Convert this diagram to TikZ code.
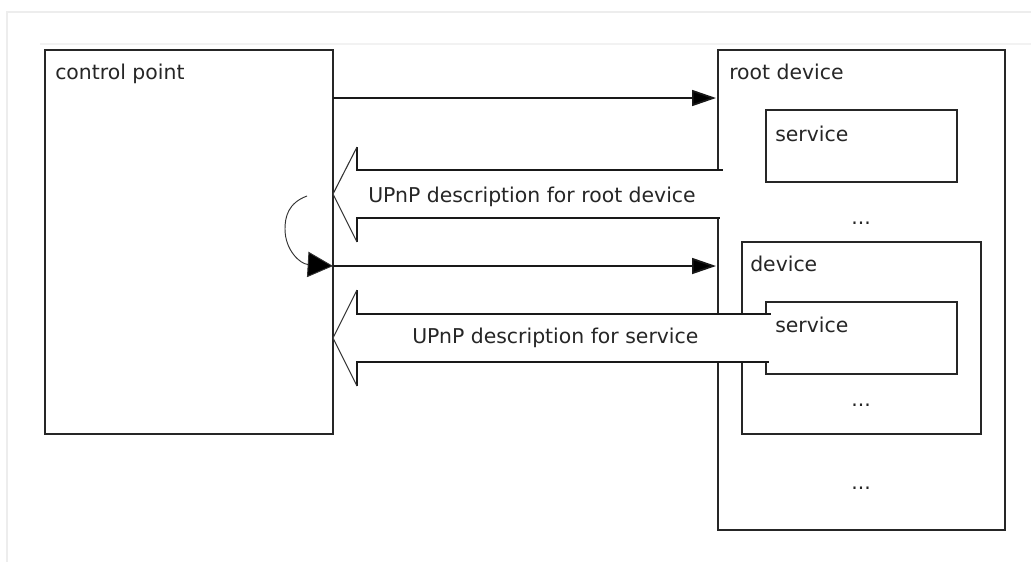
\documentclass[tikz,border=0pt]{standalone}
\usepackage{fontspec}
\setmainfont{DejaVu Sans}
\usetikzlibrary{arrows.meta}
\tikzset{
  x=0.75pt,y=-0.75pt,
  box/.style={draw=black!85,line width=1.4pt,fill=white,minimum width=0pt,minimum height=0pt,inner sep=0pt,outer sep=0pt,rectangle},
  label/.style={font=\fontsize{15.3pt}{17pt}\selectfont,text=black!85,inner sep=0pt,anchor=base west},
  msg/.style={draw=black!90,line width=1.3pt,shorten >=1.5pt,-{Triangle[length=18pt,width=12pt,fill=black]}},
  blockfill/.style={fill=white,draw=none},
  blockline/.style={draw=black!90,line width=1.3pt},
  blockhead/.style={draw=black!80,line width=0.8pt},
  loopline/.style={draw=black!80,line width=0.7pt,-{Triangle[length=19pt,width=19pt,fill=black]}},
  faint/.style={draw=black!7,line width=1pt}
}
\newcommand{\boxat}[5]{\node[box,minimum width=#4*0.75pt,minimum height=#5*0.75pt] (#1) at (#2,#3) {};}
\begin{document}
\begin{tikzpicture}
\useasboundingbox (0,0) rectangle (1031,562);
\fill[white] (0,0) rectangle (1031,562);
\draw[faint] (1031,12) -- (7,12) -- (7,562);
\draw[draw=black!5,line width=0.8pt] (40,44) -- (1031,44);

\boxat{cp}{189}{242}{288}{384}
\boxat{root}{861.5}{290}{287}{480}
\boxat{svcA}{861.5}{146}{191}{72}
\boxat{dev}{861.5}{338}{239}{192}
\boxat{svcB}{861.5}{338}{191}{72}

\node[label] (tcp) at (55,79) {control point};
\node[label] (troot) at (729,79) {root device};
\node[label] (tsvcA) at (775,141) {service};
\node[label] (tdev) at (750,271) {device};
\node[label,anchor=base] (d1) at (861,224) {...};
\node[label,anchor=base] (d2) at (861,406) {...};
\node[label,anchor=base] (d3) at (861,489) {...};

% request arrows
\coordinate (r1) at (cp.east |- 0,98);
\coordinate (r2) at (cp.east |- 0,266);
\draw[msg] (r1) -- (root.west |- r1);
\draw[msg] (r2) -- (root.west |- r2);

% block arrow: root device description
\coordinate (t1) at (cp.east |- 0,194);
\fill[blockfill] (t1) -- (357,147) -- (357,170) -- (723,170) -- (723,218) -- (357,218) -- (357,242) -- cycle;
\draw[blockline] (357,147) -- (357,170) -- (723,170);
\draw[blockline] (357,242) -- (357,218) -- (720,218);
\draw[blockhead] (357,147) -- (t1) -- (357,242);

% block arrow: service description
\coordinate (t2) at (cp.east |- 0,338);
\fill[blockfill] (t2) -- (357,290) -- (357,314) -- (771,314) -- (771,362) -- (357,362) -- (357,386) -- cycle;
\draw[blockline] (357,290) -- (357,314) -- (771,314);
\draw[blockline] (357,386) -- (357,362) -- (769,362);
\draw[blockhead] (357,290) -- (t2) -- (357,386);

\node[label] (tA) at (368,202) {UPnP description for root device};
\node[label] (tB) at (412,343) {UPnP description for service};
\node[label] (tsvcB) at (775,332) {service};

% self loop
\coordinate (ls) at (307,196);
\draw[loopline] (ls) .. controls (288,203) and (285,217) .. (285,229) .. controls (285,250) and (300,264) .. (r2);
\end{tikzpicture}
\end{document}
